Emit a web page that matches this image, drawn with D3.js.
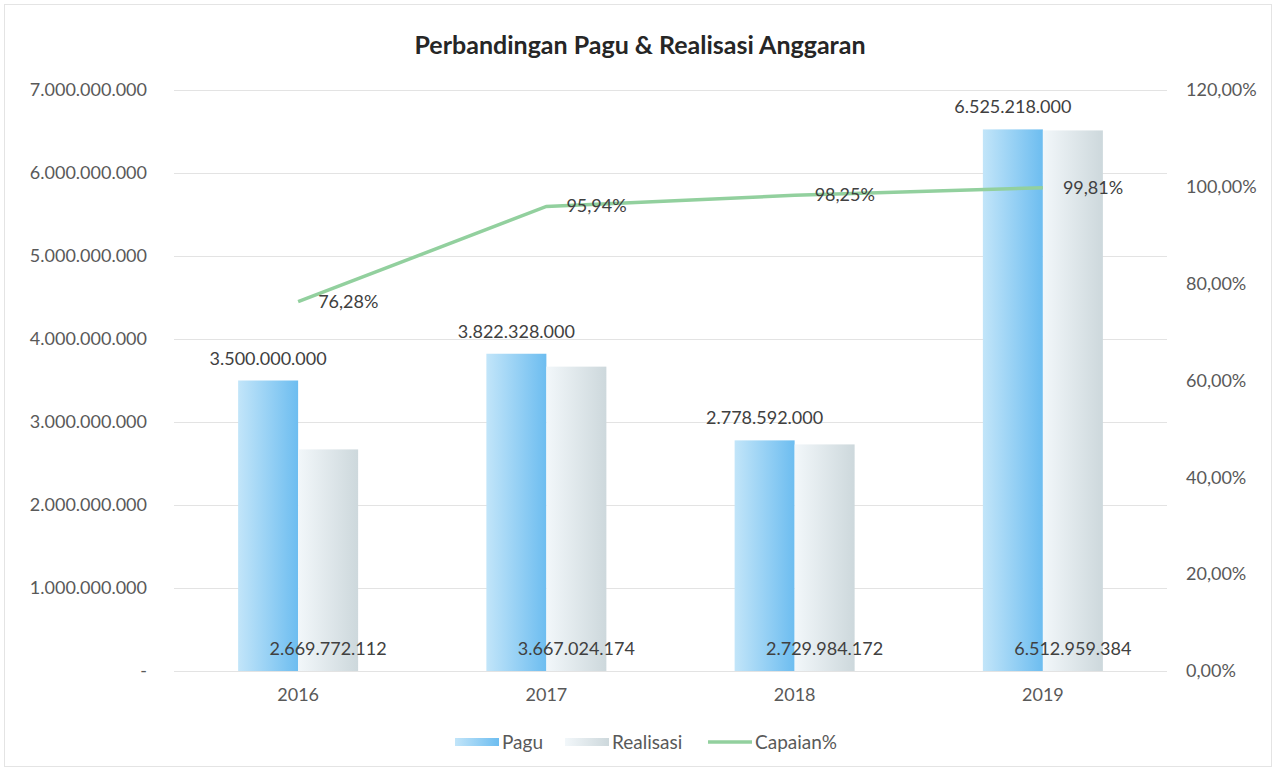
<!DOCTYPE html>
<html>
<head>
<meta charset="utf-8">
<style>
  body { margin: 0; background: #fff; }
  text { font-family: Lato, "Open Sans", sans-serif; }
</style>
</head>
<body>
<script src="https://cdn.jsdelivr.net/npm/d3@7/dist/d3.min.js"></script>
<script>
// data
var years = ["2016", "2017", "2018", "2019"];
var pagu = [3500000000, 3822328000, 2778592000, 6525218000];
var realisasi = [2669772112, 3667024174, 2729984172, 6512959384];
var capaian = [0.7628, 0.9594, 0.9825, 0.9981];
var leftTicks = [0, 1e9, 2e9, 3e9, 4e9, 5e9, 6e9, 7e9];
var rightTicks = [0, 0.2, 0.4, 0.6, 0.8, 1.0, 1.2];

var W = 1276, H = 771;
var svg = d3.select("body").append("svg").attr("width", W).attr("height", H);

// chart border
svg.append("rect").attr("x", 4.5).attr("y", 4.5).attr("width", W - 9).attr("height", H - 9)
  .attr("fill", "#fff").attr("stroke", "#e4e4e4");

var mLeft = 174, mRight = 1167, mTop = 90, mBottom = 671;

var x = d3.scaleBand().domain(years).range([mLeft, mRight]).paddingInner(0).paddingOuter(0);
var y = d3.scaleLinear().domain([0, 7e9]).range([mBottom, mTop]);
var y2 = d3.scaleLinear().domain([0, 1.2]).range([mBottom, mTop]);

var fmtNum = function (v) { return v === 0 ? "-" : d3.format(",")(v).replace(/,/g, "."); };
var fmtPct = function (v) { return d3.format(".2f")(v * 100).replace(".", ",") + "%"; };

// gradients
var defs = svg.append("defs");
var g1 = defs.append("linearGradient").attr("id", "gPagu").attr("x1", 0).attr("x2", 1).attr("y1", 0).attr("y2", 0);
g1.append("stop").attr("offset", "0%").attr("stop-color", "#c2e5f9");
g1.append("stop").attr("offset", "100%").attr("stop-color", "#6dbdf0");
var g2 = defs.append("linearGradient").attr("id", "gReal").attr("x1", 0).attr("x2", 1).attr("y1", 0).attr("y2", 0);
g2.append("stop").attr("offset", "0%").attr("stop-color", "#f2f7fa");
g2.append("stop").attr("offset", "100%").attr("stop-color", "#cdd8dc");

// gridlines
svg.append("g").selectAll("line").data(leftTicks).enter().append("line")
  .attr("x1", mLeft).attr("x2", mRight)
  .attr("y1", function (d) { return Math.round(y(d)) + 0.5; })
  .attr("y2", function (d) { return Math.round(y(d)) + 0.5; })
  .attr("stroke", "#e3e3e3").attr("stroke-width", 1);

// left axis
var yAxis = svg.append("g").attr("transform", "translate(" + (mLeft - 24) + ",0)")
  .call(d3.axisLeft(y).tickValues(leftTicks).tickFormat(fmtNum).tickSize(0));
yAxis.select(".domain").remove();
yAxis.selectAll("text").attr("fill", "#595959").attr("font-size", 18).attr("font-family", "Lato");

// right axis
var y2Axis = svg.append("g").attr("transform", "translate(" + (mRight + 16) + ",0)")
  .call(d3.axisRight(y2).tickValues(rightTicks).tickFormat(fmtPct).tickSize(0));
y2Axis.select(".domain").remove();
y2Axis.selectAll("text").attr("fill", "#595959").attr("font-size", 18).attr("font-family", "Lato");

// x axis labels
var xAxis = svg.append("g").attr("transform", "translate(0," + (mBottom + 14) + ")")
  .call(d3.axisBottom(x).tickSize(0));
xAxis.select(".domain").remove();
xAxis.selectAll("text").attr("fill", "#595959").attr("font-size", 18).attr("font-family", "Lato");

var bw = 60;

// bars
svg.append("g").selectAll("rect").data(years).enter().append("rect")
  .attr("x", function (d) { return x(d) + x.bandwidth() / 2 - bw; })
  .attr("y", function (d, i) { return y(pagu[i]); })
  .attr("width", bw)
  .attr("height", function (d, i) { return mBottom - y(pagu[i]); })
  .attr("fill", "url(#gPagu)");

svg.append("g").selectAll("rect").data(years).enter().append("rect")
  .attr("x", function (d) { return x(d) + x.bandwidth() / 2; })
  .attr("y", function (d, i) { return y(realisasi[i]); })
  .attr("width", bw)
  .attr("height", function (d, i) { return mBottom - y(realisasi[i]); })
  .attr("fill", "url(#gReal)");

// line
var line = d3.line()
  .x(function (d, i) { return x(years[i]) + x.bandwidth() / 2; })
  .y(function (d) { return y2(d); });
svg.append("path").datum(capaian).attr("d", line)
  .attr("fill", "none").attr("stroke", "#92d09e").attr("stroke-width", 3.5);

// labels
svg.append("g").selectAll("text").data(years).enter().append("text")
  .attr("x", function (d) { return x(d) + x.bandwidth() / 2 - bw / 2; })
  .attr("y", function (d, i) { return y(pagu[i]) - 16; })
  .attr("text-anchor", "middle").attr("font-size", 18).attr("fill", "#404040")
  .text(function (d, i) { return fmtNum(pagu[i]); });

svg.append("g").selectAll("text").data(years).enter().append("text")
  .attr("x", function (d) { return x(d) + x.bandwidth() / 2 + bw / 2; })
  .attr("y", mBottom - 16)
  .attr("text-anchor", "middle").attr("font-size", 18).attr("fill", "#404040")
  .text(function (d, i) { return fmtNum(realisasi[i]); });

svg.append("g").selectAll("text").data(capaian).enter().append("text")
  .attr("x", function (d, i) { return x(years[i]) + x.bandwidth() / 2 + 20; })
  .attr("y", function (d) { return y2(d) + 6; })
  .attr("font-size", 18).attr("fill", "#404040")
  .text(function (d) { return fmtPct(d); });

// title
svg.append("text").attr("x", 640).attr("y", 54).attr("text-anchor", "middle")
  .attr("font-size", 25).attr("font-weight", "bold").attr("fill", "#262626")
  .text("Perbandingan Pagu & Realisasi Anggaran");

// legend
var legend = svg.append("g").attr("transform", "translate(0,742)");
var items = [
  { name: "Pagu", fill: "url(#gPagu)", x: 455 },
  { name: "Realisasi", fill: "url(#gReal)", x: 565 },
  { name: "Capaian%", line: "#92d09e", x: 708 }
];
items.forEach(function (it) {
  if (it.line) {
    legend.append("line").attr("x1", it.x).attr("x2", it.x + 44).attr("y1", 0).attr("y2", 0)
      .attr("stroke", it.line).attr("stroke-width", 3.5);
  } else {
    legend.append("rect").attr("x", it.x).attr("y", -4).attr("width", 44).attr("height", 8)
      .attr("fill", it.fill);
  }
  legend.append("text").attr("x", it.x + 47).attr("y", 7).attr("font-size", 19)
    .attr("fill", "#595959").text(it.name);
});
</script>
</body>
</html>
